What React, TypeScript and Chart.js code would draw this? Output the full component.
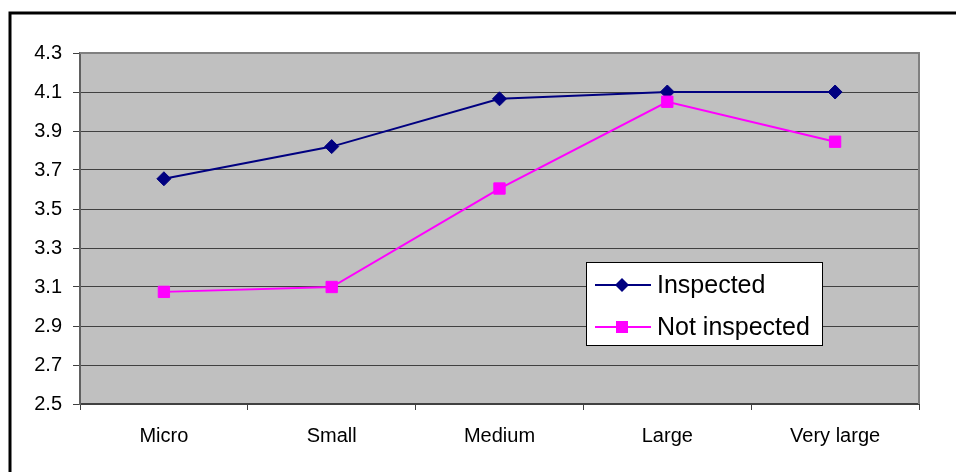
import React, { useEffect, useRef } from "react";
import { Chart, registerables } from "chart.js";

Chart.register(...registerables);

const categories = ["Micro", "Small", "Medium", "Large", "Very large"];
const inspected = [3.655, 3.82, 4.065, 4.1, 4.1];
const notInspected = [3.075, 3.1, 3.605, 4.05, 3.845];
const seriesNames = ["Inspected", "Not inspected"];

const FONT = "'Liberation Sans', Arial, sans-serif";

const framePlugin = {
  id: "frame",
  beforeDraw(chart: any) {
    const { ctx, chartArea: a } = chart;
    ctx.save();
    ctx.fillStyle = "#ffffff";
    ctx.fillRect(0, 0, chart.width, chart.height);
    ctx.fillStyle = "#C0C0C0";
    ctx.fillRect(a.left, a.top, a.right - a.left, a.bottom - a.top);
    ctx.restore();
  },
  afterDraw(chart: any) {
    const { ctx, chartArea: a } = chart;
    ctx.save();
    ctx.strokeStyle = "#808080";
    ctx.lineWidth = 2;
    ctx.beginPath();
    ctx.moveTo(a.left, a.top);
    ctx.lineTo(a.right, a.top);
    ctx.lineTo(a.right, a.bottom);
    ctx.stroke();
    ctx.strokeStyle = "#000000";
    ctx.lineWidth = 3;
    ctx.beginPath();
    ctx.moveTo(10, chart.height + 5);
    ctx.lineTo(10, 13);
    ctx.lineTo(chart.width + 5, 13);
    ctx.stroke();

    const bx = 586, by = 262, bw = 236, bh = 83;
    ctx.fillStyle = "#ffffff";
    ctx.fillRect(bx, by, bw, bh);
    ctx.strokeStyle = "#000000";
    ctx.lineWidth = 1;
    ctx.strokeRect(bx + 0.5, by + 0.5, bw, bh);
    const rows = [
      { y: 285, color: "#000080", style: "diamond", name: seriesNames[0] },
      { y: 327, color: "#FF00FF", style: "square", name: seriesNames[1] },
    ];
    rows.forEach((r) => {
      ctx.strokeStyle = r.color;
      ctx.lineWidth = 2;
      ctx.beginPath();
      ctx.moveTo(595, r.y);
      ctx.lineTo(651, r.y);
      ctx.stroke();
      ctx.fillStyle = r.color;
      ctx.beginPath();
      if (r.style === "diamond") {
        const s = 7;
        ctx.moveTo(622 - s, r.y);
        ctx.lineTo(622, r.y - s);
        ctx.lineTo(622 + s, r.y);
        ctx.lineTo(622, r.y + s);
        ctx.closePath();
      } else {
        ctx.rect(616, r.y - 6, 12, 12);
      }
      ctx.fill();
      ctx.fillStyle = "#000000";
      ctx.font = `25px ${FONT}`;
      ctx.textBaseline = "middle";
      ctx.textAlign = "left";
      ctx.fillText(r.name, 657, r.y + 1);
    });
    ctx.restore();
  },
};

export default function App() {
  const ref = useRef<HTMLCanvasElement | null>(null);
  useEffect(() => {
    document.body.style.margin = "0";
    const canvas = ref.current!;
    const chart = new Chart(canvas, {
      type: "line",
      data: {
        labels: categories,
        datasets: [
          {
            label: seriesNames[0],
            data: inspected,
            borderColor: "#000080",
            backgroundColor: "#000080",
            borderWidth: 2,
            pointStyle: "rectRot",
            pointRadius: 7,
            pointBorderWidth: 1,
            tension: 0,
            order: 1,
          },
          {
            label: seriesNames[1],
            data: notInspected,
            borderColor: "#FF00FF",
            backgroundColor: "#FF00FF",
            borderWidth: 2,
            pointStyle: "rect",
            pointRadius: 8,
            pointBorderWidth: 1,
            tension: 0,
            order: 0,
          },
        ],
      },
      options: {
        animation: false,
        responsive: false,
        devicePixelRatio: 1,
        layout: { padding: { top: 53, right: 37, left: 0, bottom: 0 } },
        plugins: {
          legend: { display: false },
          tooltip: { enabled: false },
        },
        scales: {
          x: {
            type: "category",
            offset: true,
            afterFit: (s: any) => {
              s.height = 68;
            },
            grid: {
              offset: true,
              drawOnChartArea: false,
              tickLength: 6,
              color: "#404040",
            },
            border: { color: "#404040", width: 2 },
            ticks: {
              color: "#000000",
              font: { family: FONT, size: 20 },
              padding: 14,
              maxRotation: 0,
            },
          },
          y: {
            min: 2.5,
            max: 4.3,
            afterFit: (s: any) => {
              s.width = 80;
            },
            ticks: {
              stepSize: 0.2,
              color: "#000000",
              font: { family: FONT, size: 20 },
              padding: 11,
              callback: (v: any) => Number(v).toFixed(1),
            },
            grid: {
              tickLength: 7,
              color: (c: any) =>
                c.tick && c.tick.value > 4.29 ? "#808080" : "#404040",
              tickColor: "#404040",
            },
            border: { color: "#606060", width: 2 },
          },
        },
      },
      plugins: [framePlugin],
    });
    return () => chart.destroy();
  }, []);
  return (
    <canvas
      ref={ref}
      width={956}
      height={472}
      style={{ display: "block", width: 956, height: 472 }}
    />
  );
}
